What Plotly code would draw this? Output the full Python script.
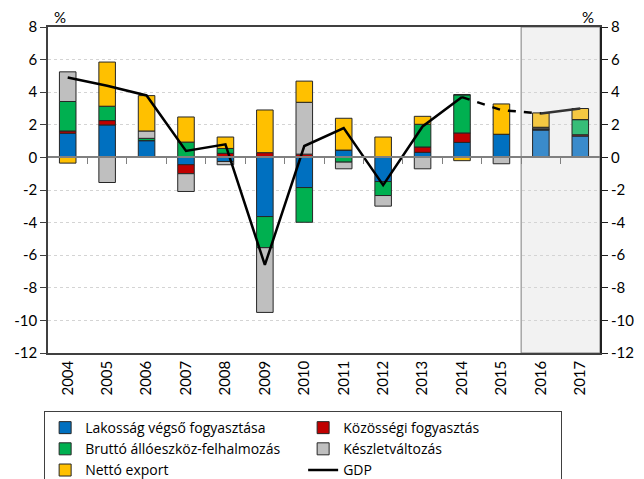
import plotly.graph_objects as go

years = ["2004", "2005", "2006", "2007", "2008", "2009", "2010", "2011",
         "2012", "2013", "2014", "2015", "2016", "2017"]
household = [1.48, 1.99, 1.03, -0.45, -0.25, -3.63, -1.85, 0.45, -1.48, 0.31, 0.92, 1.42, 1.68, 1.31]
community = [0.14, 0.27, 0.0, -0.55, 0.25, 0.29, 0.20, 0.0, 0.0, 0.33, 0.58, 0.0, 0.05, 0.08]
investment = [1.81, 0.88, 0.14, 0.94, 0.30, -1.91, -2.13, -0.29, -0.86, 1.39, 2.34, 0.0, 0.0, 0.93]
inventory = [1.82, -1.54, 0.45, -1.09, -0.20, -3.97, 3.18, -0.41, -0.65, -0.70, 0.0, -0.39, 0.12, 0.0]
net_export = [-0.35, 2.71, 2.17, 1.54, 0.70, 2.62, 1.30, 1.95, 1.25, 0.49, -0.20, 1.86, 0.88, 0.68]
gdp = [4.9, 4.4, 3.8, 0.4, 0.8, -6.6, 0.7, 1.8, -1.7, 1.9, 3.7, 2.9, 2.7, 3.0]
y_ticks = [-12, -10, -8, -6, -4, -2, 0, 2, 4, 6, 8]
y_ticktext = [str(v) for v in y_ticks]

names = ["Lakosság végső fogyasztása", "Közösségi fogyasztás",
         "Bruttó állóeszköz-felhalmozás", "Készletváltozás", "Nettó export"]
series = [household, community, investment, inventory, net_export]
base_colors = ["#0070C0", "#C00000", "#00B050", "#BFBFBF", "#FFC000"]
fc_colors = ["#3A8BCB", "#B33A3A", "#37BD78", "#5A5A5A", "#F5C842"]

n = len(years)
xs = list(range(n))
forecast_start = 12

fig = go.Figure()
for name, vals, c, fc in zip(names, series, base_colors, fc_colors):
    cols = [fc if i >= forecast_start else c for i in range(n)]
    fig.add_trace(go.Bar(
        x=xs, y=vals, name=name,
        marker=dict(color=cols, line=dict(color="#262626", width=1)),
        width=0.42,
    ))

# GDP line: solid until 2014, dashed 2014-2016, solid 2016-2017
fig.add_trace(go.Scatter(x=xs[:11], y=gdp[:11], mode="lines", name="GDP",
                         line=dict(color="black", width=2.5)))
fig.add_trace(go.Scatter(x=xs[10:13], y=gdp[10:13], mode="lines", showlegend=False,
                         line=dict(color="black", width=2.5, dash="8px,8px")))
fig.add_trace(go.Scatter(x=xs[12:], y=gdp[12:], mode="lines", showlegend=False,
                         line=dict(color="#333333", width=2.5)))
# invisible trace to activate the right axis and zero-line axis
fig.add_trace(go.Scatter(x=[0], y=[0], xaxis="x2", yaxis="y2", mode="markers",
                         marker=dict(opacity=0), showlegend=False, hoverinfo="skip"))

font = "Lato, 'Open Sans', sans-serif"

fig.update_layout(
    width=644, height=479,
    margin=dict(l=48, r=44, t=27, b=126, autoexpand=False),
    barmode="relative",
    plot_bgcolor="white", paper_bgcolor="white",
    font=dict(family=font, size=15, color="black"),
    showlegend=True,
    legend=dict(
        orientation="h", x=-0.007, y=-0.178, xanchor="left", yanchor="top",
        entrywidth=213, entrywidthmode="pixels",
        bordercolor="#404040", borderwidth=1,
        font=dict(size=14, family="'Open Sans', sans-serif"), itemwidth=30,
        tracegroupgap=0, traceorder="normal",
    ),
    xaxis=dict(
        range=[-0.5, n - 0.5], tickmode="array", tickvals=xs, ticktext=years,
        tickangle=-90, showgrid=False, zeroline=False, automargin=False,
        showline=True, linecolor="#404040", linewidth=1.5, mirror=True,
        ticks="",
    ),
    xaxis2=dict(
        overlaying="x", anchor="free", position=0.6, range=[-0.5, n - 0.5],
        showline=True, linecolor="#808080", linewidth=1.5, automargin=False,
        tickmode="array", tickvals=[i + 0.5 for i in range(n - 1)],
        ticks="outside", ticklen=6, tickcolor="#808080", tickwidth=1,
        showticklabels=False, showgrid=False, zeroline=False,
    ),
    yaxis=dict(
        range=[-12, 8], tickmode="array", tickvals=y_ticks, ticktext=y_ticktext,
        ticks="outside", ticklen=6, automargin=False,
        tickcolor="#404040", showline=True, linecolor="#404040", linewidth=1.5,
        gridcolor="#D4D4D4", griddash="dot", gridwidth=1, zeroline=False,
    ),
    yaxis2=dict(
        overlaying="y", side="right", range=[-12, 8], tickmode="array",
        tickvals=y_ticks, ticktext=y_ticktext, automargin=False,
        ticks="outside", ticklen=6, tickcolor="#202020", showline=True,
        linecolor="#202020", linewidth=2, showgrid=False, zeroline=False,
    ),
    shapes=[dict(
        type="rect", xref="x", yref="paper", x0=forecast_start - 0.5, x1=n - 0.5,
        y0=0, y1=1, fillcolor="#F2F2F2", line=dict(color="#7F7F7F", width=1),
        layer="below",
    )],
    annotations=[
        dict(text="%", xref="paper", yref="paper", x=0.022, y=1.0, yshift=10,
             showarrow=False, xanchor="center", yanchor="middle", font=dict(size=15)),
        dict(text="%", xref="paper", yref="paper", x=0.978, y=1.0, yshift=10,
             showarrow=False, xanchor="center", yanchor="middle", font=dict(size=15)),
    ],
)

fig.write_html("out.html", config={"displayModeBar": False},
               post_script="document.body.style.margin='0';")
